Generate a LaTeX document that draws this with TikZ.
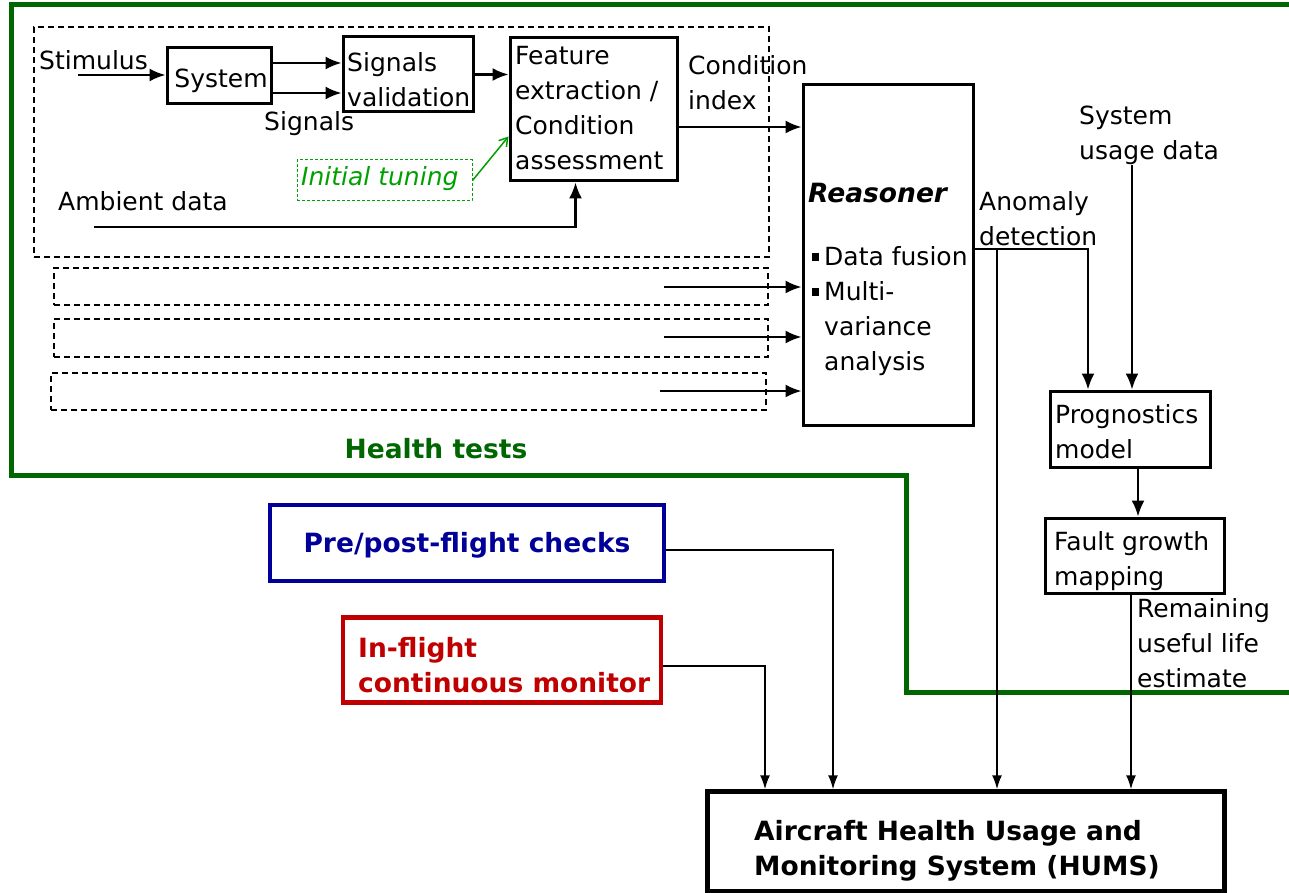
\documentclass[tikz,border=0pt]{standalone}
\usepackage{fontspec}
\setmainfont{DejaVu Sans}
\usetikzlibrary{arrows.meta}

\definecolor{htgreen}{RGB}{0,102,0}
\definecolor{tunegreen}{RGB}{0,160,0}
\definecolor{preblue}{RGB}{0,0,153}
\definecolor{flightred}{RGB}{192,0,0}

\newcommand{\txtsize}{\fontsize{25}{35}\selectfont}
\newcommand{\boldsize}{\fontsize{26.5}{35}\selectfont\bfseries}
\newcommand{\bul}{\llap{\rule[4pt]{7pt}{8pt}\hspace{5pt}}}

\tikzset{
  every node/.style={font=\txtsize},
  box/.style={draw, line width=3pt, inner sep=0pt},
  dbox/.style={draw, line width=1.5pt, dash pattern=on 6pt off 4pt, inner sep=0pt},
  lbl/.style={inner sep=0pt, anchor=base west, align=left},
  arr/.style={line width=2.2pt, -{Latex[length=16pt,width=13pt]}},
  thinarr/.style={line width=1.6pt, -{Latex[length=14pt,width=10pt]}},
  border/.style={draw=htgreen, line width=5pt},
}

\begin{document}
\begin{tikzpicture}[x=1pt, y=-1pt]
  \useasboundingbox (0,0) rectangle (1289,893);

  % health tests frame
  \draw[border] (1295,5) -- (11,5) -- (11,475) -- (906,475) -- (906,692) -- (1295,692);
  \node[font=\boldsize, text=htgreen] (health) at (436,449) {Health tests};

  % dashed test blocks
  \node[dbox, minimum width=735pt, minimum height=230pt] (test1) at (401.5,142) {};
  \node[dbox, minimum width=714pt, minimum height=37pt] (test2) at (411,286.5) {};
  \node[dbox, minimum width=714pt, minimum height=38pt] (test3) at (411,338) {};
  \node[dbox, minimum width=715pt, minimum height=37pt] (test4) at (408.5,391.5) {};

  % boxes
  \node[box, minimum width=104pt, minimum height=56pt] (sys) at (219,76) {};
  \node[box, minimum width=130pt, minimum height=75pt] (sv) at (408,74.5) {};
  \node[box, minimum width=167pt, minimum height=143pt] (feat) at (593.5,109.5) {};
  \node[box, minimum width=170pt, minimum height=340pt] (reas) at (888,255) {};
  \node[box, minimum width=160pt, minimum height=76pt] (prog) at (1130,429) {};
  \node[box, minimum width=179pt, minimum height=75pt] (fault) at (1134.5,555.5) {};
  \node[draw=tunegreen, line width=1pt, dash pattern=on 3pt off 2pt, minimum width=175pt,
    minimum height=41pt, inner sep=0pt] (tune) at (384.5,180.5) {};
  \node[draw=preblue, line width=4pt, minimum width=394pt, minimum height=76pt] (pre) at (467,543) {};
  \node[draw=flightred, line width=4.5pt, minimum width=318pt, minimum height=85pt] (infl) at (502,660) {};
  \node[draw, line width=4.5pt, minimum width=517pt, minimum height=100pt] (hums) at (966,841.5) {};

  % texts (base = last line)
  \node[lbl] (stim) at (39,70) {Stimulus};
  \node[inner sep=0pt, anchor=base] (systxt) at (221,88) {System};
  \node[lbl] (svtxt) at (347,107) {Signals\\validation};
  \node[lbl] (sigtxt) at (264,131) {Signals};
  \node[lbl] (feattxt) at (515,170) {Feature\\extraction /\\Condition\\assessment};
  \node[lbl] (condtxt) at (688,110) {Condition\\index};
  \node[lbl, text=tunegreen, font=\txtsize\itshape] (tunetxt) at (301,186) {Initial tuning};
  \node[lbl] (ambtxt) at (58,211) {Ambient data};
  \node[lbl, font=\boldsize\itshape] (reastxt) at (808,203) {Reasoner};
  \node[lbl] (reaslist) at (824,370) {\bul Data fusion\\\bul Multi-\\variance\\analysis};
  \node[lbl] (anomtxt) at (979,245) {Anomaly\\detection};
  \node[lbl] (usagetxt) at (1079,160) {System\\usage data};
  \node[lbl] (progtxt) at (1055,458) {Prognostics\\model};
  \node[lbl] (faulttxt) at (1054,585) {Fault growth\\mapping};
  \node[lbl] (rultxt) at (1137,687) {Remaining\\useful life\\estimate};
  \node[inner sep=0pt, anchor=base, font=\boldsize, text=preblue] (pretxt) at (467,552) {Pre/post-flight checks};
  \node[lbl, font=\boldsize, text=flightred] (infltxt) at (358,692) {In-flight\\continuous monitor};
  \node[lbl, font=\boldsize] (humstxt) at (754,875) {Aircraft Health Usage and\\Monitoring System (HUMS)};

  % free ends
  \coordinate (stimin) at (78,75);
  \coordinate (ambin) at (94,227);
  \coordinate (in1) at (664,287);
  \coordinate (in2) at (664,337);
  \coordinate (in3) at (660,391);
  \coordinate (anom) at (997,249);
  \coordinate (usage) at (1132,165);

  % connectors
  \draw[arr] (stimin) -- (stimin -| sys.west);
  \draw[arr] ([yshift=13pt]sys.east) -- ([yshift=13pt]sys.east -| sv.west);
  \draw[arr] ([yshift=-17pt]sys.east) -- ([yshift=-17pt]sys.east -| sv.west);
  \draw[arr] (sv.east) -- (sv.east -| feat.west);
  \draw[arr] ([yshift=-17.5pt]feat.east) -- ([yshift=-17.5pt]feat.east -| reas.west);
  \draw[tunegreen, line width=1.5pt, -{Straight Barb[length=8pt,width=10pt]}] (tune.east) -- ([yshift=-27pt]feat.west);
  \draw[arr] (ambin) -| ([xshift=-18pt]feat.south);
  \draw[arr] (in1) -- (in1 -| reas.west);
  \draw[arr] (in2) -- (in2 -| reas.west);
  \draw[arr] (in3) -- (in3 -| reas.west);
  \draw[arr] ([yshift=6pt]reas.east) -| ([xshift=-42pt]prog.north);
  \draw[thinarr] (anom) -- (anom |- hums.north);
  \draw[arr] (usage) -- (usage |- prog.north);
  \draw[arr] ([xshift=8pt]prog.south) -- ([xshift=8pt]prog.south |- fault.north);
  \draw[thinarr] ([xshift=-3.5pt]fault.south) -- ([xshift=-3.5pt]fault.south |- hums.north);
  \draw[thinarr] ([yshift=-7pt]pre.east) -| ([xshift=-133pt]hums.north);
  \draw[thinarr] ([yshift=-6pt]infl.east) -| ([xshift=-201pt]hums.north);
\end{tikzpicture}
\end{document}
